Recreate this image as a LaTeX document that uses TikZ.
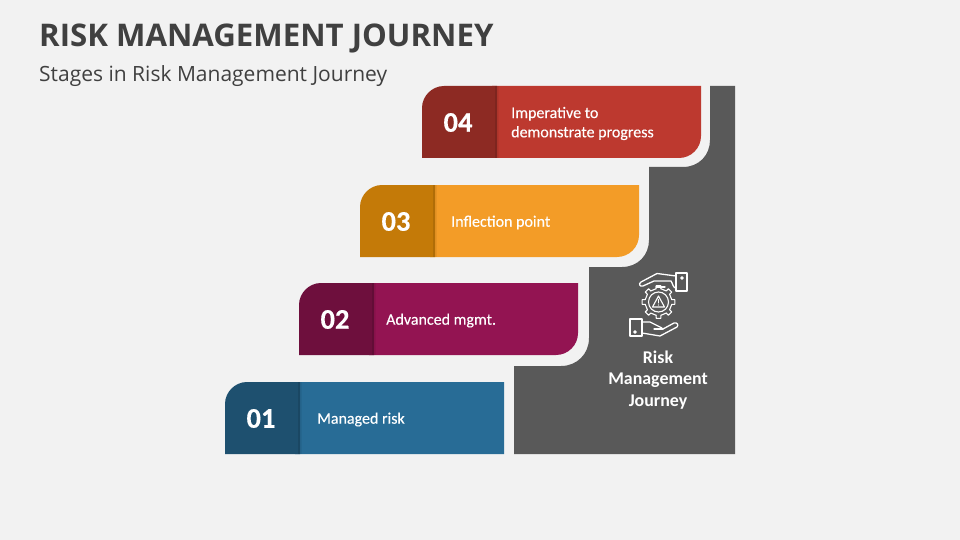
\documentclass[tikz,border=0pt]{standalone}
\usepackage{fontspec}
\setmainfont{Carlito}
\newfontfamily\headfont{Open Sans}
\newfontfamily\labfont[FakeBold=0.25]{Carlito}
\newfontfamily\numfont[FakeBold=0.3]{Carlito Bold}
\definecolor{bgc}{HTML}{F2F2F2}
\definecolor{grayc}{HTML}{595959}
\definecolor{titlec}{HTML}{404040}
\definecolor{ra}{HTML}{BD392F}\definecolor{rb}{HTML}{8D2A23}
\definecolor{oa}{HTML}{F39C27}\definecolor{ob}{HTML}{C47A08}
\definecolor{pa}{HTML}{931452}\definecolor{pb}{HTML}{6E0F3D}
\definecolor{ba}{HTML}{286C96}\definecolor{bb}{HTML}{1E506F}
\tikzset{
  x=1pt,y=-1pt,
  num/.style={font=\fontsize{28.5}{28.5}\selectfont\numfont,text=white,anchor=center,inner sep=0},
  lab/.style={font=\fontsize{16}{19.3}\selectfont\labfont,text=white,anchor=west,align=left,inner sep=0},
  icon/.style={draw=white,line width=1.3pt,line join=round,line cap=round},
  gearline/.style={icon,line width=1.1pt},
}
% x, y, light, dark, num, text, BR radius, name, text x
\newcommand{\stagebar}[9]{%
  \fill[#3] (#1+70,#2) -- (#1+279,#2) -- (#1+279,#2+72-#7) .. controls (#1+279,#2+72-0.45*#7) and (#1+279-0.45*#7,#2+72) .. (#1+279-#7,#2+72) -- (#1+70,#2+72) -- cycle;
  \fill[#4] (#1,#2+72) -- (#1,#2+22) .. controls (#1,#2+10) and (#1+10,#2) .. (#1+22,#2) -- (#1+75,#2) -- (#1+75,#2+72) -- cycle;
  \fill[black,opacity=.1] (#1+73,#2) rectangle (#1+75,#2+72);
  \fill[black,opacity=.05] (#1+75,#2) rectangle (#1+76.5,#2+72);
  \node[num] (n#8) at (#1+36,#2+36.5) {#5};
  \node[lab] (t#8) at (#9,#2+37.5) {#6};
}
\begin{document}
\begin{tikzpicture}
\useasboundingbox (0,0) rectangle (960,540);
\fill[bgc] (0,0) rectangle (960,540);
\node[font=\fontsize{31.2}{31.2}\selectfont\headfont\bfseries,text=titlec,anchor=west,inner sep=0] (title) at (39,38) {RISK MANAGEMENT JOURNEY};
\node[font=\fontsize{21}{21}\selectfont\headfont,text=titlec,anchor=west,inner sep=0] (subtitle) at (39,76) {Stages in Risk Management Journey};
\fill[grayc] (710,86) -- (735,86) -- (735,454) -- (514,454) -- (514,366) -- (561,366)
  .. controls (577,366) and (589,354) .. (589,338) -- (589,267) -- (622,267)
  .. controls (638,267) and (649,255) .. (649,240) -- (649,167) -- (683,167)
  .. controls (699,167) and (710,155) .. (710,140) -- cycle;
\stagebar{422}{86}{ra}{rb}{04}{Imperative to\\demonstrate progress}{22}{d}{511}
\stagebar{360}{185}{oa}{ob}{03}{Inflection point}{22}{c}{451}
\stagebar{299}{283}{pa}{pb}{02}{Advanced mgmt.}{22}{b}{386}
\stagebar{225}{382}{ba}{bb}{01}{Managed risk}{0}{a}{317}
\node[font=\fontsize{17.9}{21.7}\selectfont\bfseries,text=white,align=center,inner sep=0] (jt) at (658,380) {Risk\\Management\\Journey};
% upper hand
\draw[icon] (676,273) rectangle (687,291);
\draw[icon] (676,276) -- (657,273.5) -- (641,282) .. controls (638,284) and (640,287) .. (643,286) -- (654,281) -- (671,281) .. controls (673,284) and (673,288) .. (676,288);
\draw[icon] (656,287) -- (665,287);
\draw[icon] (682,278) circle (1.2pt);
% lower hand
\draw[icon] (630,319) rectangle (642,336);
\draw[icon] (642,322) -- (650,322) -- (662,328);
\draw[icon] (654,329) -- (663,329);
\draw[icon] (642,333) -- (660,336) -- (677,327) .. controls (679,325) and (677,322) .. (674,323) -- (663,329);
\draw[icon] (635,332) circle (1.2pt);
% gear
\foreach \a in {0,45,...,315}{
  \draw[gearline] ([shift={(\a-10:13.5pt)}]658.5,302) -- ([shift={(\a-8:16.5pt)}]658.5,302) -- ([shift={(\a+8:16.5pt)}]658.5,302) -- ([shift={(\a+10:13.5pt)}]658.5,302) -- ([shift={(\a+35:13.5pt)}]658.5,302);
}
\draw[gearline] (658.5,302) circle (10pt);
\draw[gearline] (658.5,296) -- (664.5,307) -- (652.5,307) -- cycle;
\draw[gearline,line width=1pt] (658.5,299.5) -- (658.5,303);
\fill[white] (658.5,305) circle (0.6pt);
\end{tikzpicture}
\end{document}
